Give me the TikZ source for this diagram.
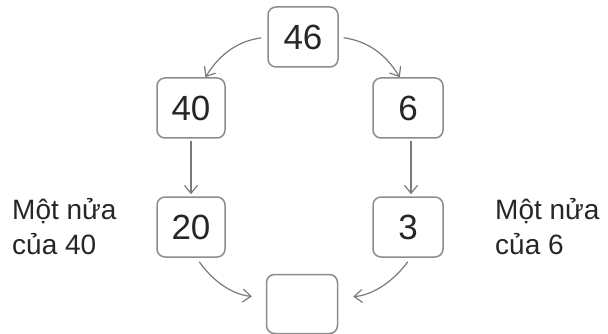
\documentclass[tikz,border=0pt]{standalone}
\usepackage{fontspec}
\setmainfont{Liberation Sans}
\usetikzlibrary{arrows.meta}
\tikzset{
  numbox/.style={draw=boxgray, line width=1.5pt, rounded corners=8pt, minimum width=68pt, minimum height=60pt, inner sep=0pt, font=\fontsize{35}{35}\selectfont, text=black!85},
  conn/.style={draw=arrgray, line width=1.2pt, -{Straight Barb[length=8pt,width=13pt]}},
  note/.style={align=left, anchor=north west, inner sep=0pt, font=\fontsize{28}{35}\selectfont, text=black!85}
}
\definecolor{boxgray}{HTML}{8C8C8C}
\definecolor{arrgray}{HTML}{7A7A7A}
\begin{document}
\begin{tikzpicture}[x=1pt,y=-1pt]
\useasboundingbox (0,0) rectangle (608,334);
\node[numbox, minimum width=70pt] (n46) at (303,37) {46};
\node[numbox] (n40) at (191,108) {40};
\node[numbox, minimum width=70pt] (n6) at (408,108) {6};
\node[numbox] (n20) at (191,227) {20};
\node[numbox, minimum width=70pt] (n3) at (408,227) {3};
\node[numbox, minimum width=71pt, minimum height=59pt] (ne) at (302,304) {};
\node[note] (tl) at (12,198) {Một nửa\\của 40};
\node[note] (tr) at (495,198) {Một nửa\\của 6};
\draw[conn, shorten <=6pt] (n46.west) to[bend right=25] (n40.65);
\draw[conn, shorten <=5pt] (n46.east) to[bend left=25] (n6.105);
\draw[conn, shorten <=2pt, shorten >=2pt] (n40.south) -- (n20.north);
\draw[conn, shorten <=2pt, shorten >=2pt] (n6.south -| 411,0) -- (n3.north -| 411,0);
\draw[conn, shorten <=5pt, shorten >=14pt] (n20.-80) to[bend right=25] (ne.170);
\draw[conn, shorten <=5pt, shorten >=15pt] (n3.-85) to[bend left=25] (ne.10);
\end{tikzpicture}
\end{document}
